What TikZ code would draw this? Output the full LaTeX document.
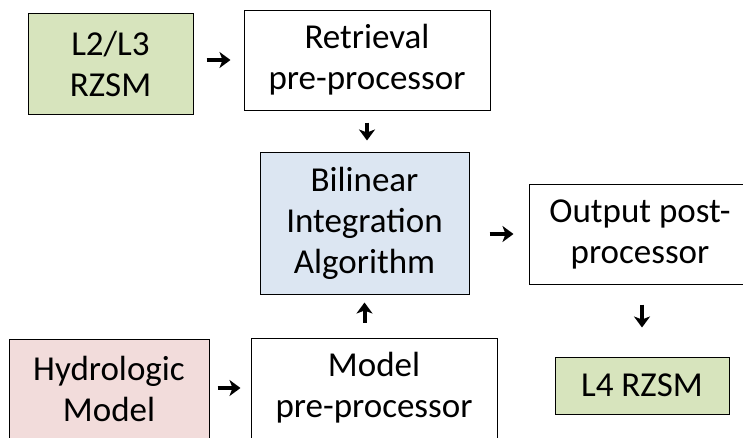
\documentclass[tikz,border=0pt]{standalone}
\usepackage{fontspec}
\setmainfont{Carlito}
\usetikzlibrary{arrows.meta}
\definecolor{boxgreen}{HTML}{D7E4BD}
\definecolor{boxblue}{HTML}{DCE6F2}
\definecolor{boxpink}{HTML}{F2DCDB}
\tikzset{
  blk/.style={draw=black, line width=1pt, fill=white, inner sep=0pt, align=center,
    font=\fontsize{35}{41}\selectfont},
  arr/.style={line width=4pt, -{Stealth[length=11pt,width=16pt,inset=3pt]}}
}
\begin{document}
\begin{tikzpicture}[x=1pt,y=-1pt]
\useasboundingbox[fill=white] (0,0) rectangle (743,437);
\node[blk, fill=boxgreen, minimum width=165pt, minimum height=101pt] (l23) at (110.5,63.5) {L2/L3\\RZSM};
\node[blk, minimum width=246pt, minimum height=100pt] (ret) at (367,60) {Retrieval\\pre-processor};
\node[blk, fill=boxblue, minimum width=209pt, minimum height=142pt] (bil) at (364.5,223) {Bilinear\\Integration\\Algorithm};
\node[blk, minimum width=222pt, minimum height=100pt] (out) at (640,234) {Output post-\\processor};
\node[blk, fill=boxgreen, minimum width=174pt, minimum height=57pt] (l4) at (642,385.5) {L4 RZSM};
\node[blk, fill=boxpink, minimum width=200pt, minimum height=100pt] (hyd) at (109,389) {Hydrologic\\Model};
\node[blk, minimum width=246pt, minimum height=100pt] (mod) at (374,388) {Model\\pre-processor};

\draw[arr, shorten <=13pt, shorten >=13pt] (l23.east |- ret.west) -- (ret.west);
\draw[arr, shorten <=12pt, shorten >=11pt] (ret.south) -- (ret.south |- bil.north);
\draw[arr, shorten <=20pt, shorten >=15pt] (bil.east |- out.west) -- (out.west);
\draw[arr, shorten <=20pt, shorten >=29pt] (l4.north |- out.south) -- (l4.north);
\draw[arr, shorten <=8pt, shorten >=10pt] (hyd.east |- mod.west) -- (mod.west);
\draw[arr, shorten <=15pt, shorten >=8pt] (bil.south |- mod.north) -- (bil.south);
\end{tikzpicture}
\end{document}
